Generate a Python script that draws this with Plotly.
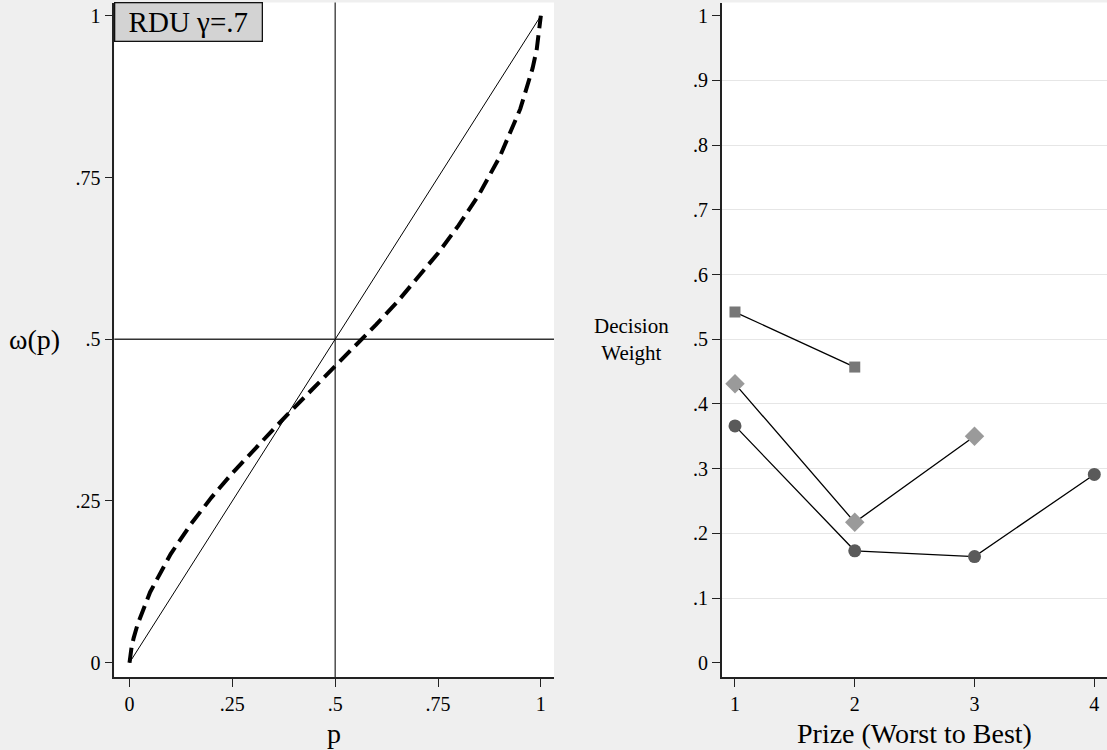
import plotly.graph_objects as go

# ---- Left panel data: probability weighting ----
p_diag = [0, 1]
w_diag = [0, 1]
p_rdu = [0, 0.001, 0.005, 0.01, 0.02, 0.05, 0.10, 0.15, 0.20, 0.25, 0.30, 0.35, 0.40,
         0.45, 0.50, 0.55, 0.60, 0.65, 0.70, 0.75, 0.80, 0.85, 0.90, 0.95, 0.98, 0.99, 1]
w_rdu = [0, 0.008, 0.024, 0.038, 0.060, 0.109, 0.168, 0.215, 0.256, 0.293, 0.328, 0.361, 0.394,
         0.426, 0.457, 0.490, 0.523, 0.557, 0.594, 0.633, 0.676, 0.724, 0.782, 0.856, 0.919, 0.948, 1]
left_ticks = [0, 0.25, 0.5, 0.75, 1]
left_ticktext = ["0", ".25", ".5", ".75", "1"]
label_text = "RDU γ=.7"

# ---- Right panel data: decision weights ----
prize_circle = [1, 2, 3, 4]
dw_circle = [0.366, 0.173, 0.164, 0.291]
prize_diamond = [1, 2, 3]
dw_diamond = [0.431, 0.217, 0.350]
prize_square = [1, 2]
dw_square = [0.542, 0.457]
right_yticks = [0, .1, .2, .3, .4, .5, .6, .7, .8, .9, 1]
right_yticktext = ["0", ".1", ".2", ".3", ".4", ".5", ".6", ".7", ".8", ".9", "1"]
right_grid = [.1, .2, .3, .4, .5, .6, .7, .8, .9]
right_xticks = [1, 2, 3, 4]

FONT = "Liberation Serif"
PAPER = "#efefef"
AXC = "#222222"

fig = go.Figure()

fig.add_trace(go.Scatter(x=p_diag, y=w_diag, mode="lines",
                         line=dict(color="black", width=1), xaxis="x", yaxis="y",
                         showlegend=False))
fig.add_trace(go.Scatter(x=p_rdu, y=w_rdu, mode="lines",
                         line=dict(color="black", width=4, dash="15px,7px"),
                         xaxis="x", yaxis="y", showlegend=False))

fig.add_trace(go.Scatter(x=prize_square, y=dw_square, mode="lines+markers",
                         line=dict(color="black", width=1.3),
                         marker=dict(symbol="square", size=11, color="#777777"),
                         xaxis="x2", yaxis="y2", showlegend=False))
fig.add_trace(go.Scatter(x=prize_diamond, y=dw_diamond, mode="lines+markers",
                         line=dict(color="black", width=1.3),
                         marker=dict(symbol="diamond", size=15, color="#9a9a9a"),
                         xaxis="x2", yaxis="y2", showlegend=False))
fig.add_trace(go.Scatter(x=prize_circle, y=dw_circle, mode="lines+markers",
                         line=dict(color="black", width=1.3),
                         marker=dict(symbol="circle", size=13, color="#5a5a5a"),
                         xaxis="x2", yaxis="y2", showlegend=False))

ydom = [73 / 750, 747.5 / 750]
yrange = [-0.0221, 1.0205]
tickfont = dict(family=FONT, size=20, color="black")

common_axis = dict(showline=True, linecolor=AXC, linewidth=1.5, ticks="outside",
                   ticklen=8, tickwidth=1.3, tickcolor=AXC, tickfont=tickfont,
                   zeroline=False, showgrid=False, mirror=False)

fig.update_layout(
    width=1107, height=750,
    margin=dict(l=0, r=0, t=0, b=0),
    paper_bgcolor=PAPER, plot_bgcolor="white",
    xaxis=dict(domain=[114.3 / 1107, 554 / 1107], range=[-0.037, 1.032],
               tickvals=left_ticks, ticktext=left_ticktext, anchor="y", **common_axis),
    yaxis=dict(domain=ydom, range=yrange, tickvals=left_ticks, ticktext=left_ticktext,
               anchor="x", **common_axis),
    xaxis2=dict(domain=[721.7 / 1107, 1.0], range=[0.889, 4.106],
                tickvals=right_xticks, anchor="y2", **common_axis),
    yaxis2=dict(domain=ydom, range=yrange, tickvals=right_yticks, ticktext=right_yticktext,
                anchor="x2",
                minor=dict(tickvals=right_grid, showgrid=True, gridcolor="#e6e6e6",
                           gridwidth=1.3, ticklen=0),
                **common_axis),
    font=dict(family=FONT, color="black"),
)

# reference lines in left panel
fig.add_shape(type="line", xref="x", yref="y domain", x0=0.5, x1=0.5, y0=0, y1=1,
              line=dict(color="#333333", width=1.3), layer="below")
fig.add_shape(type="line", xref="x domain", yref="y", x0=0, x1=1, y0=0.5, y1=0.5,
              line=dict(color="#333333", width=1.3), layer="below")

# label box
fig.add_annotation(xref="x domain", yref="y domain", x=0, y=1, xanchor="left", yanchor="top",
                   text=label_text, showarrow=False, bgcolor="#d3d3d3",
                   bordercolor="#111111", borderwidth=1.3, borderpad=0,
                   width=146, height=37, align="center",
                   font=dict(family=FONT, size=29, color="black"))

# axis titles
title_font = dict(family=FONT, size=28, color="black")
fig.add_annotation(xref="x domain", yref="paper", x=0.5, y=(750 - 733) / 750,
                   text="p", showarrow=False, font=title_font, yanchor="middle")
fig.add_annotation(xref="x2 domain", yref="paper", x=0.5, y=(750 - 733) / 750,
                   text="Prize (Worst to Best)", showarrow=False, font=title_font,
                   yanchor="middle")
fig.add_annotation(xref="paper", yref="y", x=34 / 1107, y=0.5, text="ω(p)",
                   showarrow=False, font=title_font, xanchor="center", yanchor="middle")
fig.add_annotation(xref="paper", yref="y2", x=631 / 1107, y=0.5, text="Decision<br>Weight",
                   showarrow=False, font=dict(family=FONT, size=21, color="black"),
                   xanchor="center", yanchor="middle", align="center")

fig.write_html("out.html", config={"displayModeBar": False},
               post_script="document.body.style.margin='0';document.body.style.overflow='hidden';")
